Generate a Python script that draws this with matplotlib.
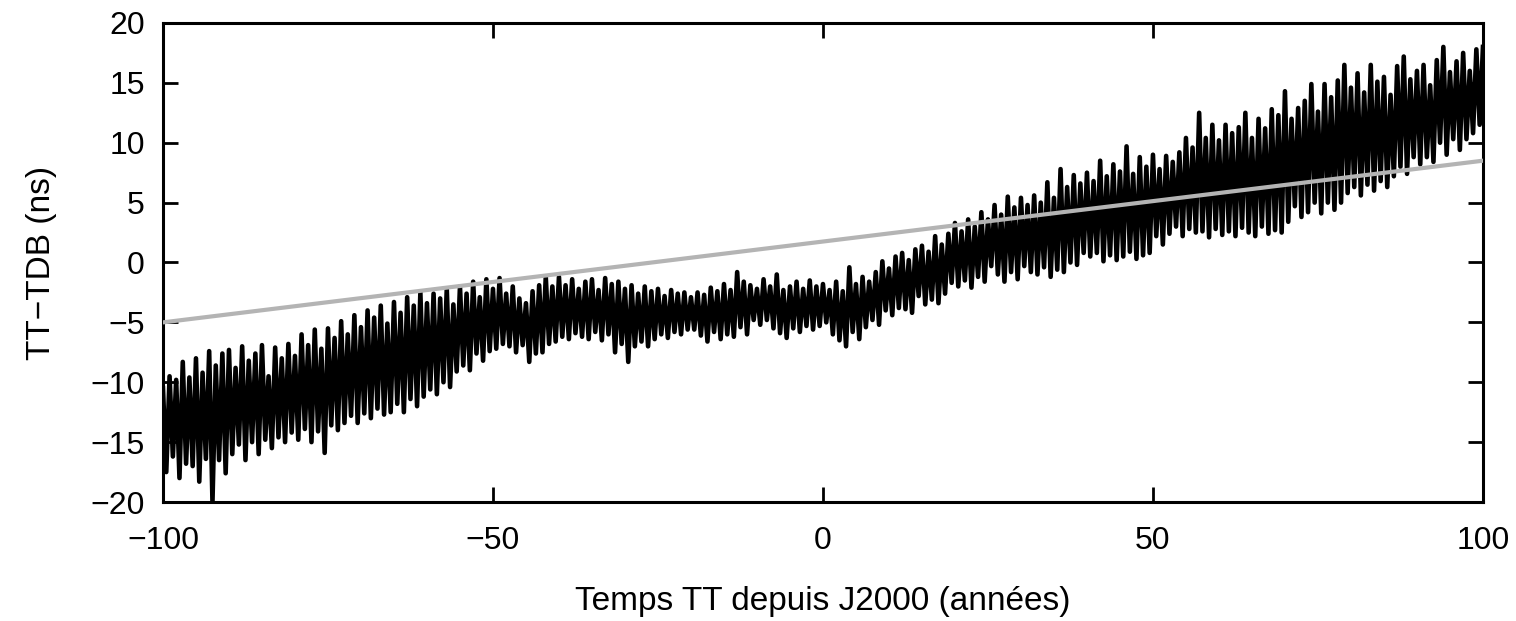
import matplotlib
matplotlib.use('Agg')
import matplotlib.pyplot as plt
import numpy as np

# peaks of the TT-TDB curve at whole years, troughs at half years (ns)
peak_years = np.arange(-100, 101, 1)
peaks = [
    -10.5, -9.5, -9.8, -8.3, -9.6, -8.0, -9.2, -7.4, -8.6, -7.6,
    -7.3, -8.8, -7.0, -8.2, -7.6, -6.9, -9.5, -7.1, -8.0, -6.8,
    -7.8, -6.0, -6.9, -5.6, -7.2, -5.5, -6.3, -4.9, -6.0, -4.4,
    -5.4, -4.0, -4.6, -3.6, -5.1, -3.3, -4.2, -2.9, -3.6, -2.5,
    -3.4, -2.6, -3.0, -2.2, -3.5, -2.0, -2.6, -1.6, -2.9, -1.4,
    -2.2, -1.3, -2.6, -2.0, -3.0, -3.4, -2.4, -1.9, -1.2, -2.0,
    -1.2, -1.9, -1.4, -2.2, -1.6, -1.4, -2.3, -1.3, -1.8, -1.6,
    -2.2, -1.9, -2.6, -2.0, -2.4, -2.2, -2.8, -2.3, -2.6, -2.5,
    -2.9, -2.5, -2.7, -2.1, -2.4, -1.8, -2.3, -0.8, -1.6, -1.9,
    -2.2, -1.4, -2.0, -1.0, -2.3, -2.0, -1.6, -2.2, -1.5, -2.0,
    -1.8, -2.3, -1.6, -2.4, -0.4, -1.8, -1.2, -1.6, -0.8, 0.1,
    -0.5, 0.5, 0.8, 0.2, 1.1, 1.4, 0.9, 2.2, 1.5, 2.4,
    3.3, 2.6, 3.6, 3.0, 4.2, 3.6, 4.8, 4.0, 5.5, 4.6,
    5.4, 4.8, 5.6, 5.0, 6.7, 5.4, 7.8, 6.3, 7.3, 6.6,
    7.5, 6.8, 8.5, 7.2, 8.2, 7.6, 9.7, 7.4, 8.8, 8.0,
    9.0, 7.8, 8.9, 8.4, 9.2, 10.4, 9.6, 12.5, 10.4, 11.5,
    10.2, 11.5, 10.8, 11.3, 12.5, 10.4, 12.0, 11.2, 12.8, 12.3,
    14.3, 12.0, 12.9, 13.5, 14.9, 12.6, 14.9, 13.8, 15.2, 16.5,
    14.6, 15.8, 14.2, 16.5, 15.1, 15.5, 14.0, 16.4, 17.2, 15.3,
    16.0, 16.5, 14.8, 16.9, 18.0, 15.9, 16.8, 17.5, 16.0, 17.8,
    18.0,
]
trough_years = np.arange(-99.5, 100, 1)
troughs = [
    -17.5, -16.2, -18.0, -16.8, -17.0, -18.3, -16.4, -20.0, -16.5, -17.6,
    -16.0, -15.2, -16.5, -15.0, -16.0, -14.8, -15.5, -14.6, -15.0, -14.2,
    -14.8, -13.9, -15.0, -14.1, -15.9, -13.6, -14.0, -13.4, -12.8, -13.4,
    -12.6, -13.0, -12.2, -12.7, -12.5, -11.8, -12.5, -11.4, -12.0, -11.2,
    -10.6, -11.0, -10.0, -10.4, -9.1, -8.6, -9.0, -7.6, -8.2, -7.4,
    -7.2, -6.8, -7.0, -7.5, -6.9, -8.3, -7.6, -7.5, -6.8, -6.6,
    -6.2, -6.4, -5.9, -6.2, -6.4, -5.8, -6.5, -6.0, -7.5, -6.8,
    -8.3, -7.0, -6.6, -7.0, -6.4, -6.0, -6.3, -5.8, -6.0, -5.6,
    -5.6, -6.1, -6.6, -5.8, -6.4, -6.0, -6.2, -5.4, -6.0, -4.8,
    -5.2, -4.8, -5.5, -5.9, -6.3, -5.5, -5.8, -5.3, -5.6, -5.3,
    -5.0, -6.0, -6.5, -7.0, -5.8, -6.4, -5.4, -4.8, -5.2, -4.0,
    -4.4, -3.8, -3.9, -4.2, -2.8, -3.5, -3.1, -3.4, -2.6, -1.7,
    -2.0, -1.5, -2.1, -1.2, -1.6, -0.3, -1.0, -1.6, -0.8, -1.4,
    -0.3, -0.8, -1.0, -0.4, -1.2, -0.6, -0.8, 0.0, -0.2, 0.8,
    0.5, 0.8, 0.1, 0.6, 0.2, 0.5, 0.9, 0.3, 0.6, 0.8,
    2.2, 1.5, 2.4, 3.0, 2.2, 2.8, 2.5, 2.6, 2.1, 2.8,
    2.3, 2.6, 2.2, 2.9, 2.5, 2.2, 3.0, 2.4, 2.7, 2.5,
    3.4, 4.7, 3.8, 4.2, 5.0, 4.1, 5.0, 4.4, 5.0, 5.8,
    6.3, 5.6, 6.5, 6.0, 6.8, 6.3, 7.2, 8.0, 7.4, 8.8,
    8.2, 8.8, 8.4, 10.0, 9.0, 10.3, 9.4, 10.3, 10.8, 11.5,
]

# linear trend (grey)
trend_years = [-100, 100]
trend = [-5.0, 8.5]

xticks = [-100, -50, 0, 50, 100]
yticks = [-20, -15, -10, -5, 0, 5, 10, 15, 20]

# interleave peaks and troughs into one time series
t = np.empty(len(peak_years) + len(trough_years))
v = np.empty_like(t)
t[0::2] = peak_years
t[1::2] = trough_years
v[0::2] = peaks
v[1::2] = troughs

plt.rcParams['font.family'] = ['Liberation Sans', 'DejaVu Sans']

fig = plt.figure(figsize=(15.16, 6.21), dpi=100)
ax = fig.add_axes([0.1075, 0.1916, 0.8707, 0.7714])

ax.plot(t, v, color='black', lw=3.3, zorder=2)
ax.plot(trend_years, trend, color='#b4b4b4', lw=3.0, zorder=3)

ax.set_xlim(-100, 100)
ax.set_ylim(-20, 20)
ax.set_xticks(xticks)
ax.set_yticks(yticks)
ax.tick_params(direction='in', length=11, width=2, labelsize=23,
               top=True, right=True)
ax.tick_params(axis='x', pad=17)
ax.tick_params(axis='y', pad=13)
for s in ax.spines.values():
    s.set_linewidth(2.2)

ax.set_xlabel('Temps TT depuis J2000 (années)', fontsize=24, labelpad=22)
ax.set_ylabel('TT\u2212TDB (ns)', fontsize=24, labelpad=24)

fig.savefig('out.png', dpi=100)
